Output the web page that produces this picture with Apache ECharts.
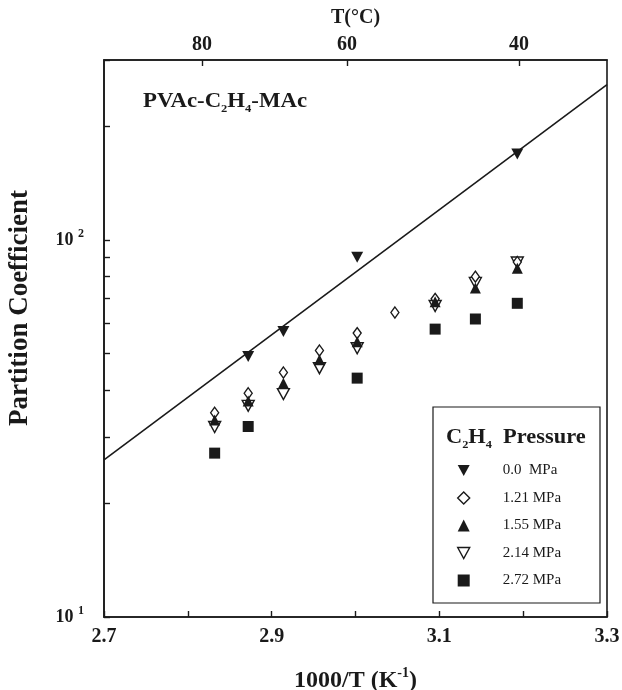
<!DOCTYPE html>
<html>
<head>
<meta charset="utf-8">
<title>Partition Coefficient vs 1000/T</title>
<script src="https://cdn.jsdelivr.net/npm/echarts@6/dist/echarts.min.js"></script>
<style>
  html, body { margin: 0; padding: 0; background: #fff; }
  #chart { width: 622px; height: 690px; }
</style>
</head>
<body>
<div id="chart"></div>
<script>
// 1000/T (K^-1) for 80, 75, 70, 65, 60, 55, 50, 45, 40 °C
const invT = [2.832, 2.872, 2.914, 2.957, 3.002, 3.047, 3.095, 3.143, 3.193];

// Partition coefficients at each C2H4 pressure (null = not measured)
const p000 = [null, 49.1, 57.2, null, 89.9, null, null, null, 169.1];
const p121 = [34.8, 39.2, 44.5, 50.9, 56.6, 64.2, 69.8, 79.9, 87.4];
const p155 = [33.3, 37.4, 41.7, 48.1, 53.7, null, 68.6, 74.5, 84.1];
const p214 = [31.9, 36.3, 39.0, 45.7, 51.6, null, 66.8, 76.9, 87.1];
const p272 = [27.2, 32.0, null, null, 43.0, null, 58.0, 61.7, 67.9];

// Straight fit through the 0.0 MPa data (end points on the axis range)
const fitX = [2.7, 3.3];
const fitY = [26.1, 258];

const seriesNames = ['0.0  MPa', '1.21 MPa', '1.55 MPa', '2.14 MPa', '2.72 MPa'];

// Axis ticks
const xTicks = [2.7, 2.8, 2.9, 3.0, 3.1, 3.2, 3.3];
const xLabels = [2.7, 2.9, 3.1, 3.3];
const yTicks = [10, 20, 30, 40, 50, 60, 70, 80, 90, 100, 200, 300];
const yLabels = [10, 100];
// Top temperature scale: °C labels and where they sit on the 1000/T axis
const topTempLabels = [80, 60, 40];
const topTempPos = [2.817, 2.990, 3.195];

const SERIF = '"Liberation Serif", "DejaVu Serif", serif';
const INK = '#1a1a1a';
const DOWN_TRI = 'path://M0,0 L12,0 L6,11 Z';

function pairs(ys) {
  const out = [];
  ys.forEach((v, i) => { if (v != null) out.push([invT[i], v]); });
  return out;
}

const axisLineStyle = { color: INK, width: 1.6 };

const chart = echarts.init(document.getElementById('chart'), null, { renderer: 'canvas' });

// Marker styles per pressure; z decides which mark sits in front when they overlap
const markerDefs = [
  { data: p000, symbol: DOWN_TRI, size: [12, 11], fill: INK, z: 8 },
  { data: p121, symbol: 'diamond', size: [8, 11], fill: '#fff', z: 5 },
  { data: p155, symbol: 'triangle', size: [11, 11], fill: INK, z: 6 },
  { data: p214, symbol: DOWN_TRI, size: [12, 11], fill: '#fff', z: 4 },
  { data: p272, symbol: 'rect', size: [11, 11], fill: INK, z: 7 }
];

const series = [{
  type: 'line',
  name: 'fit',
  data: fitX.map((x, i) => [x, fitY[i]]),
  showSymbol: false,
  symbol: 'none',
  lineStyle: { color: INK, width: 1.6 },
  silent: true,
  z: 1
}];

markerDefs.forEach((m, i) => {
  series.push({
    type: 'scatter',
    name: seriesNames[i],
    data: pairs(m.data),
    symbol: m.symbol,
    symbolSize: m.size,
    itemStyle: { color: m.fill, borderColor: INK, borderWidth: m.fill === '#fff' ? 1.4 : 0, opacity: 1 },
    z: m.z
  });
});

// Two-level rich text (bold body + small sub/superscript)
function richPair(size, small, shift, sup) {
  return {
    b: { fontFamily: SERIF, fontWeight: 'bold', fontSize: size, fill: INK, color: INK, lineHeight: size + 6 },
    s: {
      fontFamily: SERIF, fontWeight: 'bold', fontSize: small, fill: INK, color: INK, lineHeight: size + 6,
      verticalAlign: sup ? 'top' : 'bottom',
      padding: sup ? [0, 0, shift, 0] : [shift, 0, 0, 0]
    }
  };
}

const option = {
  backgroundColor: '#fff',
  animation: false,
  grid: {
    left: 104, right: 15, top: 60, bottom: 73,
    outerBoundsMode: 'none',
    containLabel: false,
    show: true, borderColor: INK, borderWidth: 1.6, backgroundColor: 'transparent'
  },
  xAxis: [{
    type: 'value',
    position: 'bottom',
    min: 2.7, max: 3.3,
    axisLine: { show: true, lineStyle: axisLineStyle },
    axisTick: { show: true, inside: true, length: 6, lineStyle: { color: INK, width: 1.4 }, customValues: xTicks },
    axisLabel: {
      customValues: xLabels,
      formatter: v => v.toFixed(1),
      color: INK, fontFamily: SERIF, fontWeight: 'bold', fontSize: 20, margin: 10
    },
    splitLine: { show: false },
    name: '{b|1000/T (K}{s|-1}{b|)}',
    nameLocation: 'middle',
    nameGap: 49,
    nameTextStyle: { rich: richPair(24, 14, 10, true) }
  }, {
    type: 'value',
    position: 'top',
    min: 2.7, max: 3.3,
    axisLine: { show: true, lineStyle: axisLineStyle },
    axisTick: { show: true, inside: true, length: 6, lineStyle: { color: INK, width: 1.4 }, customValues: topTempPos },
    axisLabel: {
      customValues: topTempPos,
      formatter: v => {
        const i = topTempPos.findIndex(p => Math.abs(p - v) < 1e-6);
        return i >= 0 ? String(topTempLabels[i]) : '';
      },
      color: INK, fontFamily: SERIF, fontWeight: 'bold', fontSize: 20, margin: 5
    },
    splitLine: { show: false },
    name: 'T(°C)',
    nameLocation: 'middle',
    nameGap: 32,
    nameMoveOverlap: false,
    nameTextStyle: { fontFamily: SERIF, fontWeight: 'bold', fontSize: 20, color: INK }
  }],
  yAxis: {
    type: 'log',
    logBase: 10,
    min: 10, max: 300,
    axisLine: { show: true, lineStyle: axisLineStyle },
    axisTick: { show: true, inside: true, length: 6, lineStyle: { color: INK, width: 1.4 }, customValues: yTicks },
    minorTick: { show: false },
    axisLabel: {
      customValues: yLabels,
      formatter: v => '{b|10 }{s|' + Math.round(Math.log10(v)) + '}',
      margin: 20,
      rich: richPair(18, 12, 8, true)
    },
    splitLine: { show: false }
  },
  legend: {
    show: true,
    orient: 'vertical',
    left: 452,
    top: 458,
    itemWidth: 12,
    itemHeight: 12,
    itemGap: 12.5,
    selectedMode: false,
    data: [
      { name: seriesNames[0], icon: DOWN_TRI },
      { name: seriesNames[1], icon: 'diamond', itemStyle: { borderWidth: 1.4 } },
      { name: seriesNames[2], icon: 'triangle' },
      { name: seriesNames[3], icon: DOWN_TRI, itemStyle: { borderWidth: 1.4 } },
      { name: seriesNames[4], icon: 'rect' }
    ],
    textStyle: { fontFamily: SERIF, fontSize: 15, lineHeight: 12, color: INK, padding: [0, 0, 0, 28] }
  },
  graphic: [
    {
      type: 'rect',
      shape: { x: 433, y: 407, width: 167, height: 196 },
      style: { fill: 'none', stroke: INK, lineWidth: 1.2 },
      z: 10
    },
    {
      type: 'text',
      x: 446, y: 438,
      scaleX: 1.12,
      style: {
        text: '{b|C}{s|2}{b|H}{s|4}{b|  Pressure}',
        verticalAlign: 'middle',
        rich: richPair(20, 11, 7, false)
      },
      z: 10
    },
    {
      type: 'text',
      x: 143, y: 102,
      scaleX: 1.14,
      style: {
        text: '{b|PVAc-C}{s|2}{b|H}{s|4}{b|-MAc}',
        verticalAlign: 'middle',
        rich: richPair(20, 11, 7, false)
      },
      z: 10
    },
    {
      type: 'text',
      x: 20, y: 308,
      rotation: Math.PI / 2,
      style: {
        text: 'Partition Coefficient',
        fontFamily: SERIF, fontWeight: 'bold', fontSize: 27, fill: INK,
        align: 'center', verticalAlign: 'middle'
      },
      z: 10
    }
  ],
  series: series
};

chart.setOption(option);
</script>
</body>
</html>
